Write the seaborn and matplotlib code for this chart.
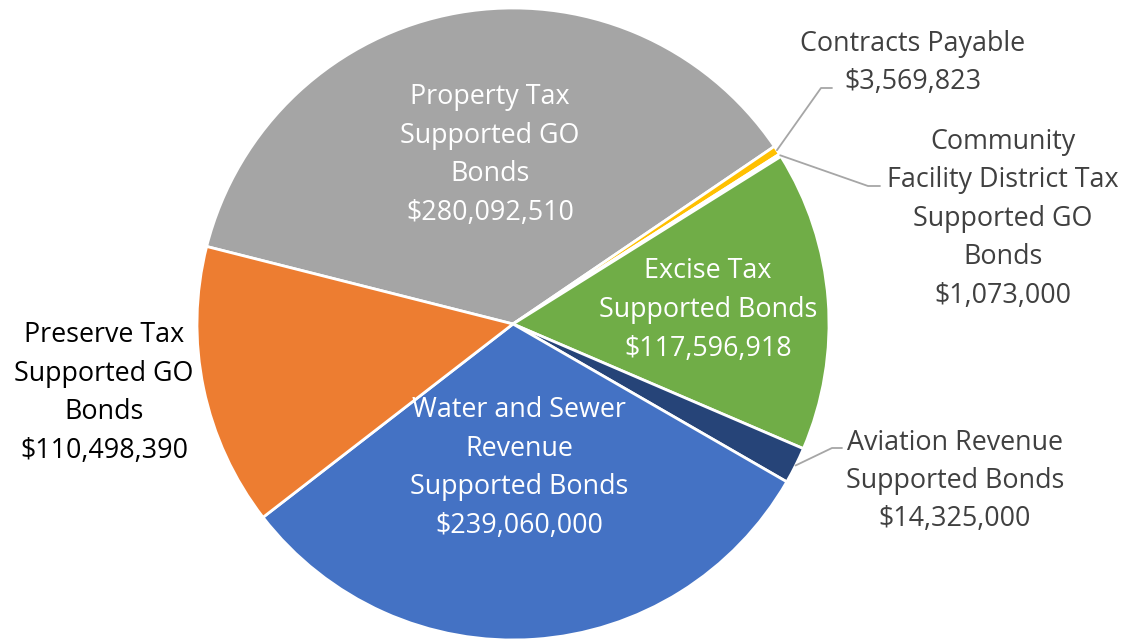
import numpy as np
import matplotlib
matplotlib.use("Agg")
import matplotlib.pyplot as plt
import seaborn as sns

# debt outstanding by type, in the order drawn clockwise from the left
categories = ["Property Tax\nSupported GO\nBonds",
              "Contracts Payable",
              "Community\nFacility District Tax\nSupported GO\nBonds",
              "Excise Tax\nSupported Bonds",
              "Aviation Revenue\nSupported Bonds",
              "Water and Sewer\nRevenue\nSupported Bonds",
              "Preserve Tax\nSupported GO\nBonds"]
amounts = [280092510, 3569823, 1073000, 117596918, 14325000, 239060000, 110498390]
colors = ["#A5A5A5", "#FFC000", "#5B9BD5", "#70AD47", "#264478", "#4472C4", "#ED7D31"]

sns.set_theme(style="white")
plt.rcParams['font.family'] = ['Open Sans', 'DejaVu Sans']

W, H = 1128, 639
fig = plt.figure(figsize=(W / 100, H / 100), dpi=100)
ax = fig.add_axes([0, 0, 1, 1])


# convert picture pixel coords (y down) into axes coords
def px(x, y):
    return x, H - y


cx, cy = px(513, 324)
R = 316
wedges, _ = ax.pie(amounts, colors=colors, startangle=165.8, counterclock=False,
                   center=(cx, cy), radius=R, frame=True,
                   wedgeprops=dict(edgecolor="white", linewidth=2.0))
ax.set_xlim(0, W)
ax.set_ylim(0, H)
ax.set_aspect('equal')
ax.axis('off')


def label(i):
    return categories[i] + "\n${:,.0f}".format(amounts[i])


fs = 19.4
ls = 1.5
# labels inside the big slices
inside = {0: (490, 155), 3: (708, 310), 5: (519, 468)}
for i, (x, y) in inside.items():
    ax.text(*px(x, y), label(i), color="white", fontsize=fs, ha="center", va="center",
            linespacing=ls)

# outside labels
outside = {1: (913, 63), 2: (1003, 219), 4: (955, 481), 6: (104, 393)}
for i, (x, y) in outside.items():
    col = "black" if i == 6 else "#404040"
    ax.text(*px(x, y), label(i), color=col, fontsize=fs, ha="center", va="center",
            linespacing=ls)

# leader lines from wedge edge to the label
leaders = {1: [(821, 88), (832, 88)], 2: [(868, 186), (880, 186)], 4: [(832, 448), (842, 448)]}
for i, pts in leaders.items():
    w = wedges[i]
    mid = np.deg2rad((w.theta1 + w.theta2) / 2)
    start = (cx + R * np.cos(mid), cy + R * np.sin(mid))
    xs = [start[0]] + [px(*p)[0] for p in pts]
    ys = [start[1]] + [px(*p)[1] for p in pts]
    ax.plot(xs, ys, color="#A6A6A6", lw=1.3)

fig.savefig("out.png", dpi=100)
